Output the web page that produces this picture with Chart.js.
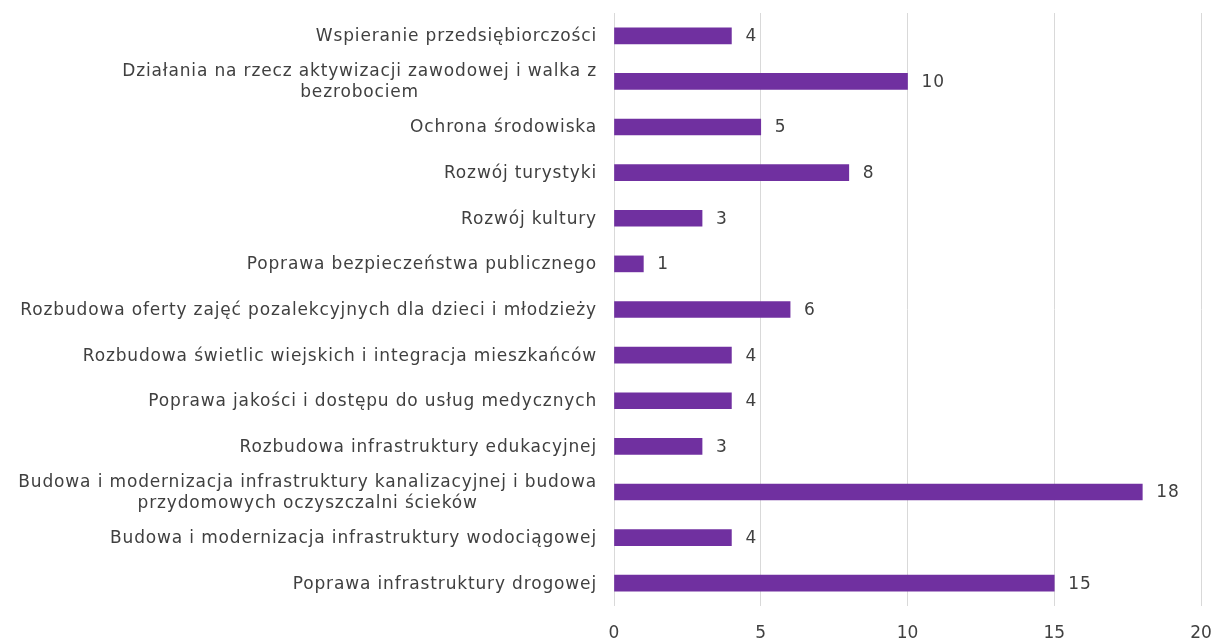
<!DOCTYPE html>
<html>
<head>
<meta charset="utf-8">
<script src="https://cdn.jsdelivr.net/npm/chart.js@4"></script>
<style>
  html, body { margin: 0; padding: 0; background: #fff; overflow: hidden; }
  #wrap { position: relative; width: 1215px; height: 641px; }
</style>
</head>
<body>
<div id="wrap"><canvas id="chart"></canvas></div>
<script>
const categories = [
    ["Wspieranie przedsiębiorczości"],
    ["Działania na rzecz aktywizacji zawodowej i walka z", "bezrobociem"],
    ["Ochrona środowiska"],
    ["Rozwój turystyki"],
    ["Rozwój kultury"],
    ["Poprawa bezpieczeństwa publicznego"],
    ["Rozbudowa oferty zajęć pozalekcyjnych dla dzieci i młodzieży"],
    ["Rozbudowa świetlic wiejskich i integracja mieszkańców"],
    ["Poprawa jakości i dostępu do usług medycznych"],
    ["Rozbudowa infrastruktury edukacyjnej"],
    ["Budowa i modernizacja infrastruktury kanalizacyjnej i budowa", "przydomowych oczyszczalni ścieków"],
    ["Budowa i modernizacja infrastruktury wodociągowej"],
    ["Poprawa infrastruktury drogowej"]
];
const counts = [4, 10, 5, 8, 3, 1, 6, 4, 4, 3, 18, 4, 15];
const xTicks = [0, 5, 10, 15, 20];

const FONT = "'DejaVu Sans'";
const SIZE = 17;
const SPACING = "0.85px";
const TEXT = "#404040";

// category labels: block right-aligned to the axis, lines centred inside the block
const categoryLabels = {
    id: "categoryLabels",
    afterDraw(chart) {
        const ctx = chart.ctx;
        const y = chart.scales.y;
        const right = chart.chartArea.left - 17;
        ctx.save();
        ctx.font = SIZE + "px " + FONT;
        ctx.letterSpacing = SPACING;
        ctx.fillStyle = TEXT;
        ctx.textAlign = "left";
        ctx.textBaseline = "middle";
        categories.forEach((lines, i) => {
            const widths = lines.map(l => ctx.measureText(l).width);
            const w = Math.max(...widths);
            const cx = right - w / 2;
            const cy = y.getPixelForValue(i) + 1;
            const lh = 21;
            lines.forEach((l, j) => {
                ctx.fillText(l, cx - widths[j] / 2, cy + (j - (lines.length - 1) / 2) * lh);
            });
        });
        ctx.restore();
    }
};

// value labels to the right of each bar
const valueLabels = {
    id: "valueLabels",
    afterDatasetsDraw(chart) {
        const ctx = chart.ctx;
        const meta = chart.getDatasetMeta(0);
        ctx.save();
        ctx.font = SIZE + "px " + FONT;
        ctx.letterSpacing = SPACING;
        ctx.fillStyle = TEXT;
        ctx.textAlign = "left";
        ctx.textBaseline = "middle";
        meta.data.forEach((bar, i) => {
            ctx.fillText(String(counts[i]), bar.x + 14, bar.y + 1);
        });
        ctx.restore();
    }
};

const ctx = document.getElementById("chart").getContext("2d");
new Chart(ctx, {
    type: "bar",
    data: {
        labels: categories,
        datasets: [
            {
                data: counts,
                backgroundColor: "#7030A0",
                barThickness: 16
            }
        ]
    },
    options: {
        indexAxis: "y",
        responsive: true,
        maintainAspectRatio: false,
        animation: false,
        layout: { padding: { top: 13, right: 14, left: 0, bottom: 0 } },
        plugins: {
            legend: { display: false },
            tooltip: { enabled: false }
        },
        scales: {
            x: {
                min: 0,
                max: 20,
                afterBuildTicks: scale => {
                    scale.ticks = xTicks.map(v => ({ value: v }));
                },
                afterFit: scale => {
                    scale.height = 35;
                    scale.paddingLeft = 0;
                    scale.paddingRight = 0;
                },
                grid: { color: "#d9d9d9", drawTicks: false },
                border: { display: false },
                ticks: {
                    padding: 17,
                    color: TEXT,
                    font: { family: FONT, size: SIZE }
                }
            },
            y: {
                afterFit: scale => { scale.width = 614; },
                grid: { display: false },
                border: { display: false },
                ticks: { display: false }
            }
        }
    },
    plugins: [categoryLabels, valueLabels]
});
</script>
</body>
</html>
